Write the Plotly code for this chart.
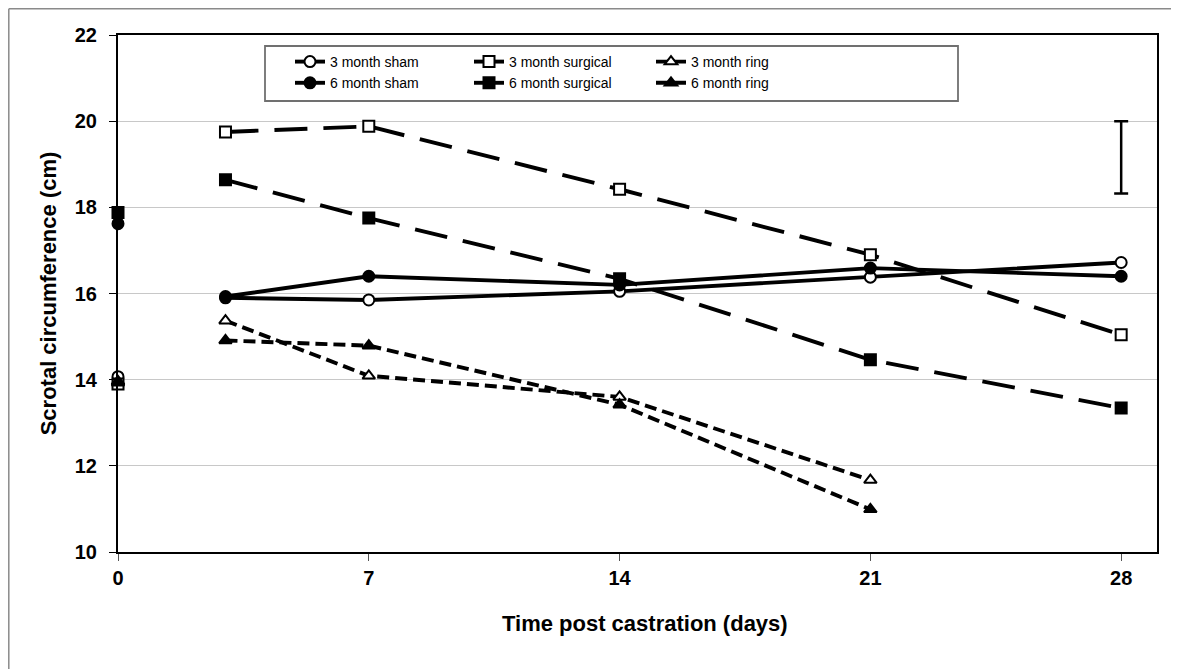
import plotly.graph_objects as go

days = [0, 3, 7, 14, 21, 28]

sham_3m = [14.07, 15.90, 15.85, 16.05, 16.38, 16.72]
sham_6m = [17.62, 15.93, 16.40, 16.20, 16.59, 16.40]
surg_3m = [13.90, 19.75, 19.88, 18.42, 16.90, 15.04]
surg_6m = [17.88, 18.64, 17.75, 16.34, 14.46, 13.34]
ring_3m = [13.96, 15.37, 14.09, 13.60, 11.67, None]
ring_6m = [13.93, 14.91, 14.79, 13.42, 10.99, None]

err_day = [28]
err_center = [19.16]
err_half = [0.84]

xticks = [0, 7, 14, 21, 28]
yticks = [10, 12, 14, 16, 18, 20, 22]


def with_gap(vals):
    # day 0 value is not joined to the later time points
    return [vals[0], None] + list(vals[1:])


x_gap = with_gap(days)

series = [
    ("3 month sham", sham_3m, "solid", "circle", "white", "legend"),
    ("6 month sham", sham_6m, "solid", "circle", "black", "legend"),
    ("3 month surgical", surg_3m, "33px,16px", "square", "white", "legend2"),
    ("6 month surgical", surg_6m, "33px,16px", "square", "black", "legend2"),
    ("3 month ring", ring_3m, "12px,6px", "triangle-up", "white", "legend3"),
    ("6 month ring", ring_6m, "12px,6px", "triangle-up", "black", "legend3"),
]

fig = go.Figure()
for name, vals, dash, sym, fill, leg in series:
    fig.add_trace(go.Scatter(
        x=x_gap, y=with_gap(vals), name=name, mode="lines+markers",
        connectgaps=False, cliponaxis=False, legend=leg,
        line=dict(color="black", width=3.9, dash=dash),
        marker=dict(symbol=sym, size=11, color=fill,
                    line=dict(color="black", width=2)),
    ))

fig.add_trace(go.Scatter(
    x=err_day, y=err_center, mode="markers", showlegend=False,
    marker=dict(size=2, color="rgba(0,0,0,0)"),
    error_y=dict(type="data", array=err_half, visible=True,
                 color="black", thickness=2.5, width=7),
))

# page body adds an 8 px offset; plot area placed in page coordinates
OFF = 8
W, H = 1179 - OFF, 669 - OFF
L, T = 118 - OFF, 35 - OFF
R = W - (1157 - OFF)
B = H - (552 - OFF)
pw, ph = W - L - R, H - T - B


def px_x(p):
    return (p - OFF - L) / pw


def px_y(p):
    return (H - B - (p - OFF)) / ph


leg_common = dict(orientation="v", bgcolor="rgba(0,0,0,0)", borderwidth=0,
                  font=dict(family="Arial, Liberation Sans", size=14, color="black"),
                  xanchor="left", yanchor="top", y=px_y(46), itemwidth=30)

fig.update_layout(
    width=W, height=H,
    margin=dict(l=L, r=R, t=T, b=B, autoexpand=False),
    paper_bgcolor="white", plot_bgcolor="white",
    font=dict(family="Arial, Liberation Sans", color="black"),
    legend=dict(leg_common, x=px_x(290)),
    legend2=dict(leg_common, x=px_x(469)),
    legend3=dict(leg_common, x=px_x(651)),
    xaxis=dict(
        range=[0, 29], tickvals=xticks, ticktext=[str(v) for v in xticks],
        showgrid=False, zeroline=False,
        showline=True, linecolor="black", linewidth=2, mirror=True,
        ticks="outside", ticklen=7, tickcolor="#555", tickwidth=1,
        tickfont=dict(size=20, color="black", weight="bold"),
    ),
    yaxis=dict(
        range=[10, 22], tickvals=yticks, ticktext=[str(v) for v in yticks],
        showgrid=True, gridcolor="#c8c8c8", gridwidth=1, zeroline=False,
        showline=True, linecolor="black", linewidth=2, mirror=True,
        ticks="outside", ticklen=7, tickcolor="black", tickwidth=1,
        ticklabelstandoff=8,
        tickfont=dict(size=20, color="black", weight="bold"),
        title=dict(text="<b>Scrotal circumference (cm)</b>", standoff=12,
                   font=dict(size=22, color="black")),
    ),
    annotations=[
        dict(text="<b>Time post castration (days)</b>", xref="paper", yref="paper",
             x=px_x(645), y=px_y(623), xanchor="center", yanchor="middle",
             showarrow=False, font=dict(size=22, color="black")),
    ],
    shapes=[
        dict(type="rect", xref="paper", yref="paper",
             x0=px_x(265), x1=px_x(958), y0=px_y(101), y1=px_y(46),
             line=dict(color="#707070", width=1.8), fillcolor="rgba(0,0,0,0)"),
        dict(type="line", xref="paper", yref="paper",
             x0=px_x(8.8), x1=px_x(8.8), y0=px_y(8.8), y1=px_y(669),
             line=dict(color="#8a8a8a", width=1.5)),
        dict(type="line", xref="paper", yref="paper",
             x0=px_x(8.8), x1=px_x(1179), y0=px_y(8.8), y1=px_y(8.8),
             line=dict(color="#8a8a8a", width=1.5)),
    ],
)

fig.write_html("out.html", config={"displayModeBar": False})
